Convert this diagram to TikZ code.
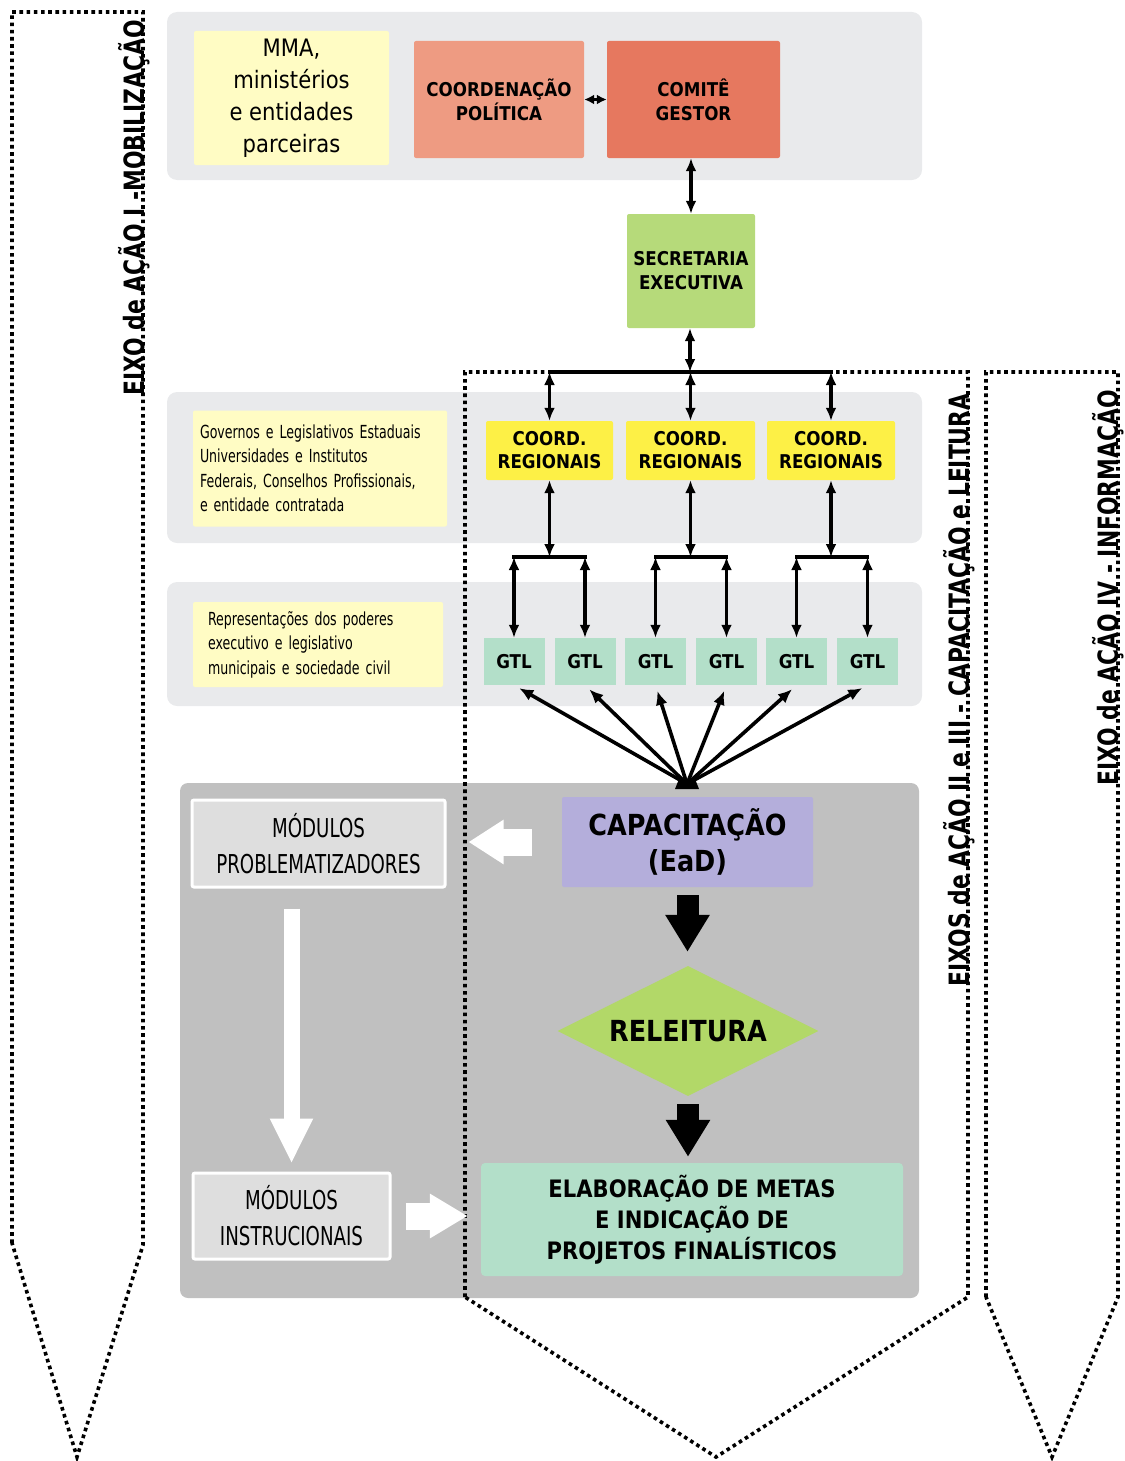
\documentclass[tikz,border=0pt]{standalone}
\usepackage{fontspec}
\setmainfont{DejaVu Sans}
\newfontfamily\tah[FakeStretch=0.88]{DejaVu Sans}
\newfontfamily\narr[FakeStretch=0.7]{DejaVu Sans}
\newfontfamily\vfont[FakeStretch=0.78]{DejaVu Sans}
\usetikzlibrary{arrows.meta,shapes.geometric}
\definecolor{panelgray}{RGB}{233,234,236}
\definecolor{darkpanel}{RGB}{192,192,192}
\definecolor{paleyellow}{RGB}{255,252,196}
\definecolor{salmonA}{RGB}{238,155,130}
\definecolor{salmonB}{RGB}{230,120,95}
\definecolor{secgreen}{RGB}{182,218,122}
\definecolor{coordyellow}{RGB}{253,240,70}
\definecolor{mint}{RGB}{179,223,201}
\definecolor{lavender}{RGB}{180,174,219}
\definecolor{relgreen}{RGB}{178,216,104}
\definecolor{modgray}{RGB}{222,222,222}
\begin{document}
\begin{tikzpicture}[x=1pt,y=-1pt,
  panel/.style={fill=panelgray, rounded corners=10pt},
  box/.style={inner sep=0pt, align=center, rounded corners=2pt},
  modbox/.style={box, fill=modgray, draw=white, line width=3pt, font=\narr\fontsize{26}{36}\selectfont},
  bl/.style={font=\tah\bfseries\fontsize{19}{24}\selectfont},
  conn/.style={line width=3.6pt, >={Latex[length=13pt,width=11pt]}, <->},
  smallconn/.style={line width=2.5pt, >={Latex[length=10pt,width=10pt]}, <->},
  fanarr/.style={line width=3.6pt, -{Latex[length=14pt,width=12pt]}, shorten >=6pt},
  dots/.style={line width=3.6pt, dash pattern=on 3.6pt off 3.6pt},
  vlab/.style={rotate=90, anchor=base, inner sep=0pt, font=\vfont\bfseries\fontsize{28}{32}\selectfont},
  blk/.style={line width=22pt, -{Triangle[length=37pt,width=42pt]}},
  wht/.style={white, line width=27pt, -{Triangle[length=35pt,width=42pt]}},
]
\useasboundingbox (0,0) rectangle (1124,1461);

% panels
\fill[panel] (167,12) rectangle (922,180);
\fill[panel] (167,392) rectangle (922,543);
\fill[panel] (167,582) rectangle (922,706);
\fill[darkpanel, rounded corners=8pt] (180,783) rectangle (919,1298);

% dotted axes
\draw[dots] (12,1243) -- (12,12) -- (143,12) -- (143,1245) -- (77,1457) -- cycle;
\draw[dots] (465,1297) -- (465,372) -- (968,372) -- (968,1297) -- (716,1457) -- cycle;
\draw[dots] (986,1297) -- (986,372) -- (1118,372) -- (1118,1297) -- (1052,1457) -- cycle;

\node[vlab] (lab1) at (144,208) {EIXO de AÇÃO I -MOBILIZAÇÃO};
\node[vlab] (lab2) at (969,690) {EIXOS de AÇÃO II e III - CAPACITAÇÃO e LEITURA};
\node[vlab] (lab3) at (1118,588) {EIXO de AÇÃO IV - INFORMAÇÃO};

% top row
\node[box, fill=paleyellow, minimum width=195pt, minimum height=134pt, font=\tah\fontsize{24}{32}\selectfont] (mma) at (291.5,98) {MMA,\\ministérios\\e entidades\\parceiras};
\node[box, bl, fill=salmonA, minimum width=170pt, minimum height=117pt] (cp) at (499,99.5) {COORDENAÇÃO\\POLÍTICA};
\node[box, bl, fill=salmonB, minimum width=173pt, minimum height=117pt] (cg) at (693.5,99.5) {COMITÊ\\GESTOR};
\node[box, bl, fill=secgreen, minimum width=128pt, minimum height=114pt] (se) at (691,271) {SECRETARIA\\EXECUTIVA};

% regional row
\node[box, fill=paleyellow, minimum width=254pt, minimum height=116pt, text width=240pt, inner xsep=7pt, align=left, font=\narr\fontsize{18}{24.5}\selectfont] (gov) at (320,468.5) {Governos e Legislativos Estaduais\\Universidades e Institutos\\Federais, Conselhos Profissionais,\\e entidade contratada};
\node[box, bl, fill=coordyellow, minimum width=127pt, minimum height=59pt, font=\tah\bfseries\fontsize{19}{23}\selectfont] (c1) at (549.5,450.5) {COORD.\\REGIONAIS};
\node[box, bl, fill=coordyellow, minimum width=129pt, minimum height=59pt, font=\tah\bfseries\fontsize{19}{23}\selectfont] (c2) at (690.5,450.5) {COORD.\\REGIONAIS};
\node[box, bl, fill=coordyellow, minimum width=128pt, minimum height=59pt, font=\tah\bfseries\fontsize{19}{23}\selectfont] (c3) at (831,450.5) {COORD.\\REGIONAIS};

% municipal row
\node[box, fill=paleyellow, minimum width=250pt, minimum height=85pt, text width=220pt, inner xsep=15pt, align=left, font=\narr\fontsize{18}{24.5}\selectfont] (rep) at (318,644.5) {Representações dos poderes\\executivo e legislativo\\municipais e sociedade civil};
\foreach \n/\x in {g1/514,g2/585,g3/655.5,g4/726.5,g5/796.5,g6/867.5}
  \node[box, bl, fill=mint, minimum width=61pt, minimum height=47pt, rounded corners=0pt] (\n) at (\x,661.5) {GTL};

% bottom panel
\node[box, fill=lavender, minimum width=251pt, minimum height=90pt, font=\tah\bfseries\fontsize{29}{36}\selectfont] (cap) at (687.5,842) {CAPACITAÇÃO\\(EaD)};
\node[modbox, minimum width=253pt, minimum height=87pt] (pm) at (318.5,843.5) {MÓDULOS\\PROBLEMATIZADORES};
\node[diamond, fill=relgreen, inner sep=0pt, minimum width=261pt, minimum height=130pt, aspect=2, font=\tah\bfseries\fontsize{29}{36}\selectfont] (rel) at (688,1031) {RELEITURA};
\node[modbox, minimum width=197pt, minimum height=86pt] (mi) at (291.5,1216) {MÓDULOS\\INSTRUCIONAIS};
\node[box, fill=mint, minimum width=422pt, minimum height=113pt, rounded corners=4pt, font=\tah\bfseries\fontsize{24}{31}\selectfont] (elab) at (692,1219.5) {ELABORAÇÃO DE METAS\\E INDICAÇÃO DE\\PROJETOS FINALÍSTICOS};

% connectors, top part
\draw[smallconn] (cp.east) -- (cg.west);
\draw[conn] (se.north |- cg.south) -- (se.north);
\coordinate (bus) at (690,372);
\coordinate (bustwo) at (0,557);
\draw[conn] (se.south -| bus) -- (bus);
\draw[line width=3.6pt, line cap=rect] (c1.north |- bus) -- (c3.north |- bus);
\foreach \c in {c1,c2,c3}
  \draw[conn] (\c.north |- bus) -- (\c.north);
\foreach \c/\l/\r in {c1/g1/g2, c2/g3/g4, c3/g5/g6} {
  \draw[line width=3.6pt, line cap=rect] (\l.north |- bustwo) -- (\r.north |- bustwo);
  \draw[conn] (\c.south) -- (\c.south |- bustwo);
  \draw[conn] (\l.north |- bustwo) -- (\l.north);
  \draw[conn] (\r.north |- bustwo) -- (\r.north);
}

% fan
\coordinate (fan) at (687,784);
\foreach \g in {g1,g2,g3,g4,g5,g6}
  \draw[fanarr] (fan) -- (\g.south);
\fill (675,789) -- (679,779) -- (695,779) -- (699,789) -- cycle;

% block arrows
\draw[blk, shorten <=8pt, shorten >=14pt] (cap.south) -- (cap.south |- rel.north);
\draw[blk, shorten <=8pt, shorten >=6pt] (rel.south) -- (rel.south |- elab.north);
\draw[wht, shorten <=30pt, shorten >=22pt] (cap.west) -- (cap.west -| pm.east);
\draw[white, line width=16pt, -{Triangle[length=45pt,width=40pt]}, shorten <=20pt, shorten >=8pt] (pm.south -| mi.north) -- (mi.north);
\draw[wht, -{Triangle[length=38pt,width=42pt]}, shorten <=14pt, shorten >=13pt] (mi.east) -- (mi.east -| elab.west);
\end{tikzpicture}
\end{document}
